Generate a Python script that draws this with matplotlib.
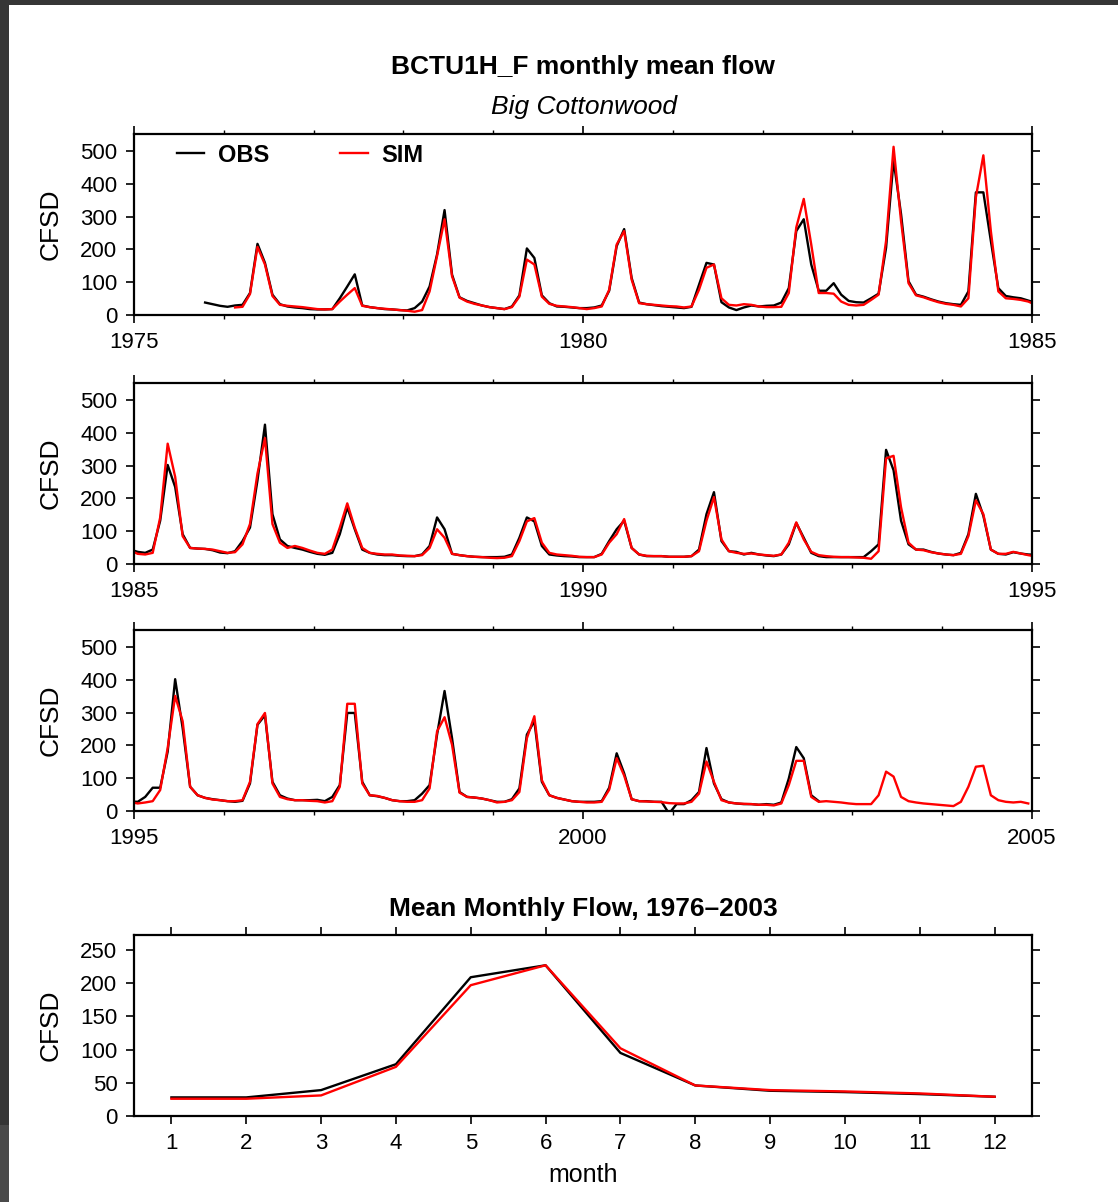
import numpy as np
import matplotlib
matplotlib.use('Agg')
import matplotlib.pyplot as plt
from matplotlib.patches import Rectangle
from matplotlib.ticker import MultipleLocator

plt.rcParams['font.family'] = ['Liberation Sans', 'DejaVu Sans']

# observed monthly mean flow (CFSD), Oct 1975 .. Aug 2002
obs_1975_1984 = [38, 33, 28,
                 25, 29, 31, 67, 217, 159, 62, 33, 26, 23, 21, 18,
                 17, 17, 18, 51, 87, 124, 29, 24, 21, 18, 17, 15,
                 14, 21, 41, 87, 185, 320, 123, 54, 43, 36, 29, 24,
                 21, 18, 26, 60, 203, 174, 60, 36, 26, 25, 23, 21,
                 21, 23, 29, 74, 210, 262, 113, 38, 33, 30, 27, 25,
                 23, 21, 25, 92, 159, 154, 39, 23, 15, 23, 29, 26,
                 28, 29, 38, 82, 256, 292, 154, 74, 74, 97, 62, 43,
                 39, 38, 51, 65, 205, 472, 308, 103, 62, 56, 48, 41,
                 36, 33, 31, 72, 374, 374, 226, 82, 58, 54, 51, 44]
obs_1985_1994 = [37, 34, 44, 132, 302, 235, 91, 49, 47, 46, 42, 35,
                 33, 39, 70, 111, 255, 425, 152, 75, 55, 49, 44, 37,
                 31, 28, 34, 91, 173, 106, 44, 34, 29, 27, 27, 25,
                 24, 24, 29, 55, 142, 106, 31, 27, 24, 22, 21, 21,
                 21, 22, 29, 80, 142, 130, 55, 29, 26, 24, 23, 21,
                 21, 21, 31, 70, 106, 132, 49, 29, 24, 24, 24, 22,
                 22, 22, 24, 44, 152, 219, 70, 39, 37, 29, 34, 29,
                 26, 24, 29, 60, 125, 80, 34, 24, 21, 21, 21, 21,
                 21, 21, 39, 60, 348, 286, 132, 60, 44, 44, 37, 32,
                 29, 27, 34, 91, 214, 147, 44, 31, 29, 36, 32, 29]
obs_1995_2002 = [28, 43, 71, 71, 181, 402, 253, 74, 48, 40, 36, 33,
                 30, 28, 31, 84, 263, 292, 89, 48, 38, 33, 33, 33,
                 34, 30, 43, 79, 299, 299, 89, 48, 45, 40, 33, 30,
                 30, 33, 53, 79, 233, 366, 222, 58, 43, 41, 38, 33,
                 28, 28, 36, 69, 233, 274, 89, 48, 40, 35, 30, 28,
                 28, 28, 30, 71, 176, 115, 36, 30, 30, 28, 28, -8,
                 21, 21, 33, 58, 192, 84, 36, 26, 23, 21, 21, 19,
                 21, 19, 26, 99, 195, 161, 48, 30]

# simulated monthly mean flow (CFSD), Feb 1976 .. Dec 2004
sim_1976_1984 = [23, 25, 64, 208, 154, 58, 31, 28, 26, 24, 21,
                 18, 17, 18, 41, 62, 82, 28, 24, 21, 19, 17, 15,
                 13, 10, 15, 72, 180, 292, 118, 53, 41, 34, 29, 24,
                 21, 18, 24, 56, 169, 154, 56, 34, 28, 26, 24, 21,
                 18, 21, 26, 77, 215, 256, 108, 36, 33, 31, 29, 27,
                 26, 23, 26, 77, 144, 154, 51, 31, 29, 33, 31, 26,
                 24, 24, 25, 67, 267, 354, 215, 67, 67, 65, 41, 31,
                 29, 31, 46, 62, 226, 513, 287, 97, 60, 54, 46, 39,
                 34, 31, 26, 51, 359, 487, 256, 72, 51, 49, 46, 41]
sim_1985_1994 = [31, 29, 34, 142, 367, 266, 85, 49, 47, 46, 44, 39,
                 34, 36, 60, 122, 276, 384, 122, 65, 49, 55, 49, 41,
                 34, 31, 44, 111, 185, 111, 49, 34, 31, 29, 29, 26,
                 25, 24, 27, 49, 106, 80, 31, 27, 24, 22, 21, 19,
                 18, 19, 24, 70, 130, 140, 65, 34, 29, 27, 25, 22,
                 21, 21, 29, 65, 91, 137, 49, 29, 25, 24, 24, 22,
                 22, 22, 24, 39, 132, 204, 75, 39, 34, 31, 32, 29,
                 27, 25, 29, 65, 127, 75, 37, 27, 24, 22, 21, 21,
                 20, 19, 16, 39, 322, 330, 173, 65, 44, 42, 36, 32,
                 29, 27, 31, 85, 194, 152, 44, 31, 31, 37, 32, 27]
sim_1995_2004 = [23, 26, 30, 64, 192, 351, 274, 74, 48, 40, 35, 33,
                 30, 30, 33, 89, 265, 299, 84, 43, 36, 33, 33, 31,
                 30, 26, 30, 74, 327, 327, 84, 48, 46, 40, 33, 30,
                 28, 28, 33, 69, 243, 286, 202, 56, 43, 41, 38, 33,
                 26, 28, 33, 58, 222, 289, 94, 48, 40, 35, 30, 28,
                 26, 26, 28, 65, 161, 108, 36, 30, 29, 28, 27, 24,
                 23, 23, 28, 53, 151, 89, 33, 26, 23, 22, 21, 19,
                 19, 17, 23, 79, 153, 153, 43, 28, 30, 28, 26, 23,
                 21, 21, 21, 48, 120, 105, 43, 30, 26, 23, 21, 19,
                 17, 15, 28, 74, 135, 138, 48, 33, 28, 26, 28, 23]

# mean monthly flow 1976-2003
months = [1, 2, 3, 4, 5, 6, 7, 8, 9, 10, 11, 12]
mean_obs = [28, 28, 39, 78, 209, 227, 95, 46, 38, 36, 33, 29]
mean_sim = [26, 26, 31, 74, 197, 227, 102, 46, 39, 37, 34, 29]

decades = [1975, 1985, 1995]

obs = np.array(obs_1975_1984 + obs_1985_1994 + obs_1995_2002, dtype=float)
sim = np.array(sim_1976_1984 + sim_1985_1994 + sim_1995_2004, dtype=float)


def month_axis(year, month, n):
    # decimal year at the middle of each month
    return year + (np.arange(n) + month - 0.5) / 12.0


t_obs = month_axis(1975, 10, len(obs))
t_sim = month_axis(1976, 2, len(sim))

W, H = 1118, 1202
fig = plt.figure(figsize=(W / 100, H / 100), dpi=100, facecolor='white')
# dark window edges of the screenshot
fig.add_artist(Rectangle((0, 1 - 5 / H), 1, 5 / H, transform=fig.transFigure,
                         facecolor='#363636', edgecolor='none', zorder=-1))
fig.add_artist(Rectangle((0, 0), 9 / W, 1, transform=fig.transFigure,
                         facecolor='#363636', edgecolor='none', zorder=-1))
fig.add_artist(Rectangle((0, 0), 9 / W, 77 / H, transform=fig.transFigure,
                         facecolor='#4a4a4a', edgecolor='none', zorder=-1))


def style(ax):
    for s in ax.spines.values():
        s.set_linewidth(1.6)
    ax.tick_params(which='major', direction='out', top=True, right=True,
                   length=6, width=1.2, labelsize=16, pad=6)
    ax.tick_params(which='minor', direction='out', top=True, right=True,
                   length=3, width=1.0)
    ax.set_ylabel('CFSD', fontsize=19)
    ax.yaxis.set_label_coords(-0.079, 0.5)


left, width, height = 134 / W, 898 / W, 181 / H
panel_bottoms = [1 - 315 / H, 1 - 564 / H, 1 - 811 / H]

axes = []
for start, b in zip(decades, panel_bottoms):
    ax = fig.add_axes([left, b, width, height])
    ax.plot(t_obs, obs, color='black', lw=1.7, label='OBS')
    ax.plot(t_sim, sim, color='#ff0000', lw=1.7, label='SIM')
    ax.set_xlim(start, start + 10)
    ax.set_ylim(0, 552)
    ax.set_xticks([start, start + 5, start + 10],
                  labels=[str(start), str(start + 5), str(start + 10)])
    ax.xaxis.set_minor_locator(MultipleLocator(1))
    ax.set_yticks(range(0, 501, 100))
    style(ax)
    axes.append(ax)

leg = axes[0].legend(loc='center left', bbox_to_anchor=(43 / 898, 160 / 181),
                     ncol=2, frameon=False, borderpad=0, borderaxespad=0,
                     handlelength=1.15, handletextpad=0.6, columnspacing=3.0,
                     prop={'weight': 'bold', 'size': 17})

ax4 = fig.add_axes([left, 1 - 1116 / H, width, height])
ax4.plot(months, mean_obs, color='black', lw=1.7)
ax4.plot(months, mean_sim, color='#ff0000', lw=1.7)
ax4.set_xlim(0.5, 12.5)
ax4.set_ylim(0, 272.6)
ax4.set_xticks(months)
ax4.set_yticks(range(0, 251, 50))
style(ax4)
ax4.set_xlabel('month', fontsize=18, labelpad=7)
ax4.text(0.5, 1 + 26 / 181, 'Mean Monthly Flow, 1976\u20132003', transform=ax4.transAxes,
         ha='center', va='center', fontsize=19, fontweight='bold')

fig.text(583 / W, 1 - 67 / H, 'BCTU1H_F monthly mean flow', ha='center', va='center',
         fontsize=19, fontweight='bold')
fig.text(584 / W, 1 - 107 / H, 'Big Cottonwood', ha='center', va='center',
         fontsize=19, style='italic')

fig.savefig('out.png', dpi=100, facecolor=fig.get_facecolor())
